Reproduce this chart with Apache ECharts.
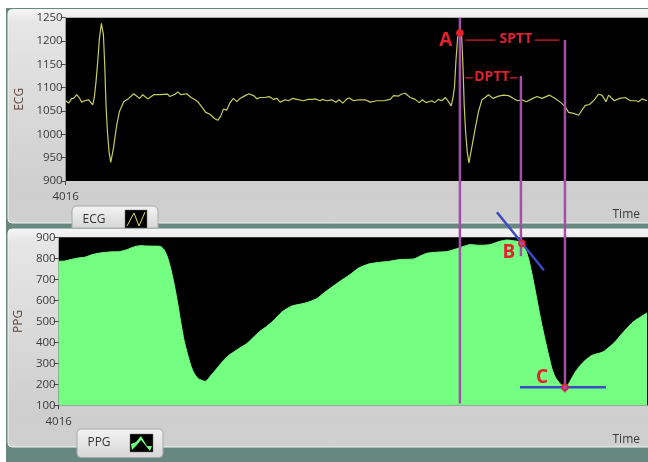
<!DOCTYPE html>
<html><head><meta charset="utf-8">
<style>html,body{margin:0;padding:0;background:#fff}#c{width:648px;height:462px}</style>
<script src="https://cdn.jsdelivr.net/npm/echarts@6/dist/echarts.min.js"></script>
</head><body><div id="c"></div>
<script>
const ecgTime=[
4016,4019,4022,4024,4027,4030,4032,4035,4039,4043,
4044.7,4046.3,4048,4049.7,4051.7,4053.7,4055,4056.3,4057.7,4059.3,
4061,4063.7,4067,4069.7,4074,4079,4084,4088,4090,4093,
4098,4104,4110,4118,4120,4125.3,4128,4131.3,4137,4141.3,
4145.3,4148,4152,4156,4160.3,4164.6,4168,4171,4173.6,4177,
4180.3,4183.6,4187,4190.3,4195.3,4199.3,4204.6,4207,4210.3,4215.3,
4219.3,4223.6,4227,4230.3,4235.3,4238.6,4242.6,4247,4253.6,4258.6,
4262.6,4265.3,4270.3,4272.6,4277,4282,4286,4289.3,4293,4297,
4299.6,4303.6,4308.6,4315.3,4320.3,4327,4333.6,4340.3,4343.6,4348.6,
4351.3,4355.3,4360.3,4365.3,4369.3,4372.6,4376,4382,4384.6,4388.6,
4392,4395.3,4398.6,4401.3,4403.3,4404.6,4406,4407.7,4409.7,4411.7,
4413,4414.3,4415.7,4417.3,4419,4421.7,4425,4428.6,4432,4435.3,
4438.6,4443,4448.6,4453.6,4458.6,4463.6,4467.6,4472,4476.3,4482,
4487,4492,4499.6,4505.3,4511,4515.3,4518.6,4523.6,4528.6,4532,
4535.3,4539.6,4544.3,4548.6,4552,4556,4558.6,4564.3,4569.6,4575.3,
4580.3,4586.3,4588.6,4592,4597];
const ecgValue=[
1072,1067,1077,1077,1085,1077,1069,1072,1074,1063,
1081,1113,1156,1206,1238,1213,1149,1063,1006,963,
940,970,1020,1049,1070,1077,1087,1080,1077,1085,
1076,1085,1085,1086,1081,1086,1091,1085,1087,1079,
1074,1070,1059,1047,1043,1034,1030,1039,1054,1052,
1068,1077,1070,1077,1083,1087,1082,1076,1079,1079,
1081,1075,1077,1069,1074,1072,1077,1075,1072,1075,
1075,1076,1072,1075,1072,1074,1069,1074,1067,1076,
1078,1072,1074,1074,1069,1072,1072,1075,1083,1082,
1086,1088,1079,1075,1068,1074,1068,1072,1068,1075,
1072,1079,1070,1061,1081,1102,1156,1206,1226,1213,
1149,1063,1006,963,939,970,1009,1049,1074,1079,
1085,1077,1082,1084,1083,1077,1072,1074,1070,1076,
1081,1077,1084,1077,1068,1059,1047,1045,1041,1052,
1062,1064,1074,1086,1084,1070,1084,1072,1077,1079,
1072,1072,1070,1076,1072];
const ppgTime=[
4016,4022,4029,4036,4042,4049,4057,4067,4077,4084,
4091,4097,4107.3,4117.3,4121.3,4124.7,4128,4131.3,4134.7,4138,
4141.3,4144.7,4148,4151.3,4155.7,4162.3,4169,4175.7,4182.3,4187.3,
4197,4204,4210,4217,4224,4231,4239,4249,4257,4266,
4274,4281,4287,4297,4307,4316,4326,4337,4347,4357,
4371,4377,4384,4394,4404,4416,4427,4437,4447,4457,
4464,4474,4479,4482.3,4485.7,4489,4492.3,4495.7,4499,4502.3,
4505.7,4509,4512.3,4515.7,4519,4522.3,4525.7,4529,4532.3,4537.3,
4542.3,4549,4557,4561,4571,4581,4591,4604];
const ppgValue=[
786,787,795,802,805,817,825,830,832,841,
854,860,858,857,841,806,750,679,592,496,
409,345,290,253,226,214,247,285,322,342,
373,394,421,452,476,505,544,573,581,592,
608,635,656,690,722,754,773,781,786,794,
797,810,824,829,832,849,865,862,865,881,
887,881,872,845,798,726,647,560,480,409,
338,274,234,211,195,187,203,231,258,290,
314,338,349,357,397,452,500,540];
const ecgTicks={min:900,max:1250,step:50};
const ppgTicks={min:100,max:900,step:100};
const startLabel=4016;
const ecgEnd=4598, ppgEnd=4605;
// annotations: [time, value] in the panel's own data units
const sptt={t:4515,top:1202,bottomPPG:162};
const dptt={t:4471,top:1125,bottomPPG:810};
const pttA={t:4410,top:1250,bottomPPG:109};
const pointA=[4410,1217], pointB=[4479,871], pointC=[4522,186];
const tangentB=[[4454,1019],[4501,743]], tangentC=[[4477,186],[4563,186]];

const FONT='"Open Sans","Noto Sans",sans-serif';
const axisText={color:'#3a3a3a',fontFamily:FONT,fontSize:11.5};
const mk=(t,v,cfg)=>({
  type:'line',xAxisIndex:cfg.i,yAxisIndex:cfg.i,data:t.map((x,k)=>[x,v[k]]),showSymbol:false,smooth:cfg.smooth||false,
  silent:true,animation:false,lineStyle:cfg.line,areaStyle:cfg.area,itemStyle:{color:cfg.line.color}
});
const xAx=(i,max)=>({
  type:'value',gridIndex:i,min:startLabel,max,splitLine:{show:false},
  axisLine:{show:false},
  axisTick:{show:true,length:4,customValues:[startLabel],lineStyle:{color:'#444'}},
  axisLabel:{...axisText,margin:10,customValues:[startLabel],formatter:v=>String(v),showMaxLabel:false},
  name:'Time',nameLocation:'end',nameGap:-8,
  nameTextStyle:{...axisText,fontSize:12,align:'right',verticalAlign:'top',padding:[28,0,0,0]}
});
const yAx=(i,t,name,gap)=>({
  type:'value',gridIndex:i,min:t.min,max:t.max,interval:t.step,splitLine:{show:false},
  axisLine:{show:false},axisTick:{show:true,length:5,lineStyle:{color:'#444'}},
  axisLabel:{...axisText,margin:3,formatter:v=>String(v)},
  name,nameLocation:'middle',nameGap:gap,nameRotate:90,nameTextStyle:{color:'#5a4535',fontFamily:FONT,fontSize:12}
});
const chart=echarts.init(document.getElementById('c'),null,{renderer:'canvas'});
chart.setOption({
  animation:false,
  grid:[
    {left:65.7,top:17.7,width:582.3,height:163.3,show:true,backgroundColor:'#000',borderWidth:0},
    {left:58.7,top:237.3,width:589.3,height:168,show:true,backgroundColor:'#000',borderWidth:0}
  ],
  xAxis:[xAx(0,ecgEnd),xAx(1,ppgEnd)],
  yAxis:[yAx(0,ecgTicks,'ECG',38),yAx(1,ppgTicks,'PPG',31)],
  series:[
    mk(ecgTime,ecgValue,{i:0,line:{color:'#c8cc60',width:1.2}}),
    mk(ppgTime,ppgValue,{i:1,smooth:0.2,line:{color:'#74ff82',width:1},area:{color:'#74ff82',opacity:1,origin:'start'}})
  ]
});
const P0=(t,v)=>chart.convertToPixel({xAxisIndex:0,yAxisIndex:0},[t,v]);
const P1=(t,v)=>chart.convertToPixel({xAxisIndex:1,yAxisIndex:1},[t,v]);
const PURPLE='#a44ea8',BLUE='#3c4cc4',RED='#e2202e';
const seg=(a,b,color,w)=>({type:'line',z:50,silent:true,shape:{x1:a[0],y1:a[1],x2:b[0],y2:b[1]},style:{stroke:color,lineWidth:w}});
const label=(p,text,size)=>({type:'text',z:60,silent:true,style:{x:p[0],y:p[1],text,fill:RED,font:`bold ${size}px ${FONT}`,align:'center',verticalAlign:'middle'}});
const dot=(p,fill)=>({type:'circle',z:55,silent:true,shape:{cx:p[0],cy:p[1],r:3},style:{fill,stroke:RED,lineWidth:1.6}});
const vertical=o=>{const a=P0(o.t,o.top);const b=P1(ppgTime[0],o.bottomPPG);return seg(a,[a[0],b[1]],PURPLE,2.5)};
const panelGrad={type:'linear',x:0,y:0,x2:0,y2:1,colorStops:[{offset:0,color:'#f6f6f6'},{offset:0.06,color:'#e6e6e6'},{offset:0.85,color:'#cecece'},{offset:1,color:'#d0d0d0'}]};
const panel=(x,y,w,h)=>({type:'rect',z:-5,silent:true,shape:{x,y,width:w,height:h,r:[4,0,0,4]},style:{fill:panelGrad,stroke:'#f2f2f2',lineWidth:1}});
const tabGrad={type:'linear',x:0,y:0,x2:0,y2:1,colorStops:[{offset:0,color:'#f4f4f4'},{offset:1,color:'#d6d6d6'}]};
const tab=(x,y,w,h,r)=>({type:'rect',z:5,silent:true,shape:{x,y,width:w,height:h,r},style:{fill:tabGrad,stroke:'#a8a8a8',lineWidth:1}});
const tabText=(x,y,text)=>({type:'text',z:6,silent:true,style:{x,y,text,fill:'#333',font:`12px ${FONT}`,align:'center',verticalAlign:'middle'}});
const box=(x,y,w,h)=>({type:'rect',z:6,silent:true,shape:{x,y,width:w,height:h},style:{fill:'#000',stroke:'#777',lineWidth:0.5}});
const els=[
  {type:'rect',z:-10,silent:true,shape:{x:6,y:8,width:642,height:454},style:{fill:'#66887f'}},
  panel(8,9.5,650,213.5),
  panel(8,229,650,218),
  tab(72,206,86,22,[5,5,0,0]),tabText(94,220,'ECG'),box(125,210,22,18),
  {type:'polyline',z:7,silent:true,shape:{points:[[127,226],[134,213],[139,226],[145,212]]},style:{stroke:'#d8dc60',fill:null,lineWidth:1}},
  tab(77,429,86,28.5,4),tabText(99,443,'PPG'),box(130,434,23,18),
  {type:'polygon',z:7,silent:true,shape:{points:[[131,444],[136,442],[141,436],[147,446],[152,446],[150,451],[146,446],[141,440],[136,446],[132,450]]},style:{fill:'#74ff82'}},
  vertical(pttA),vertical(dptt),vertical(sptt),
  seg(P1(...tangentB[0]),P1(...tangentB[1]),BLUE,2.5),
  seg(P1(...tangentC[0]),P1(...tangentC[1]),BLUE,2.5),
  seg(P0(4416,1202),P0(4445,1202),RED,1.2),seg(P0(4485,1202),P0(4509,1202),RED,1.2),
  seg(P0(4415,1121),P0(4423,1121),RED,1.2),seg(P0(4460,1121),P0(4468,1121),RED,1.2),
  dot(P0(...pointA),RED),dot(P1(...pointB),PURPLE),dot(P1(...pointC),PURPLE),
  label(P0(4396,1200),'A',19),label(P1(4466,829),'B',19),label(P1(4499,233),'C',19),
  label(P0(4466,1204),'SPTT',14),label(P0(4442,1123),'DPTT',14)
];
chart.setOption({graphic:[{elements:els}]});
</script></body></html>
